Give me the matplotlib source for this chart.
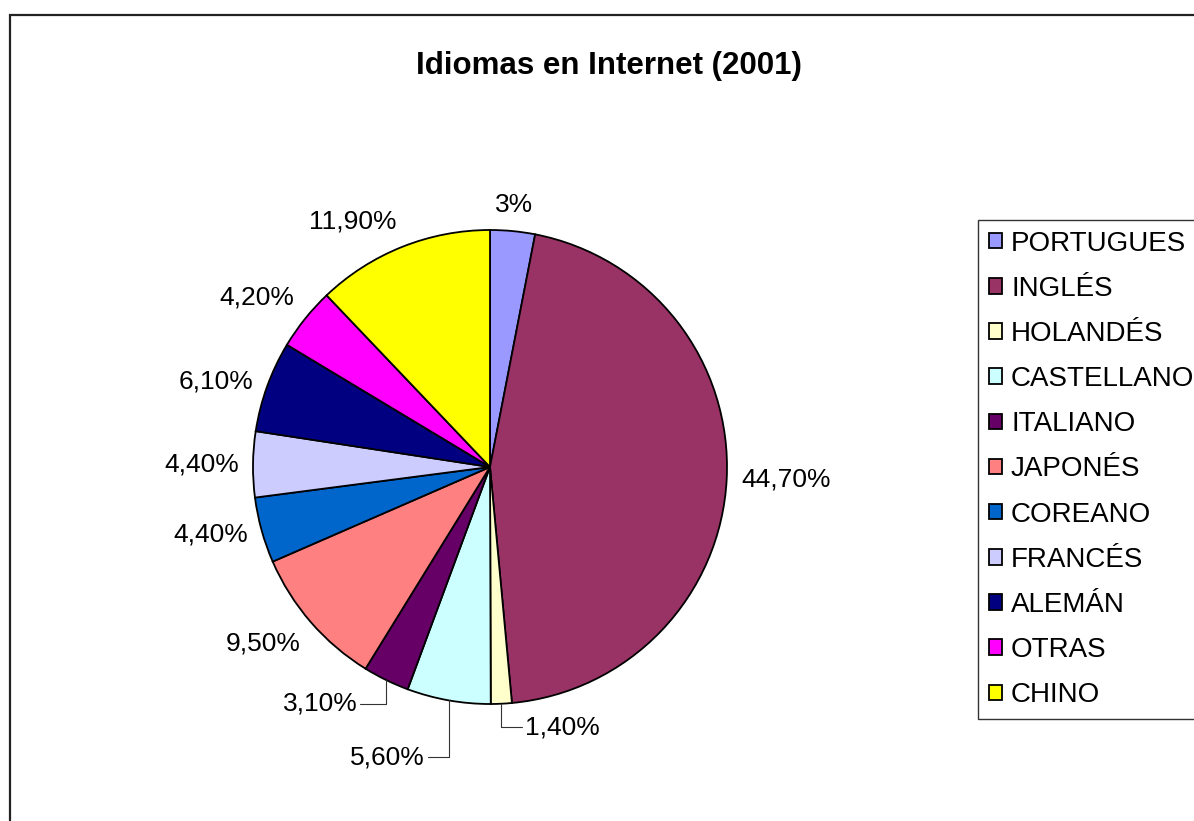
import numpy as np
import matplotlib
matplotlib.use("Agg")
from matplotlib import pyplot as plt
from matplotlib.patches import Rectangle, Patch

plt.rcParams['font.family'] = ['Liberation Sans', 'DejaVu Sans']

# Idiomas en Internet, 2001 (porcentaje de usuarios)
idiomas = ['PORTUGUES', 'INGLÉS', 'HOLANDÉS', 'CASTELLANO', 'ITALIANO', 'JAPONÉS',
           'COREANO', 'FRANCÉS', 'ALEMÁN', 'OTRAS', 'CHINO']
porcentajes = [3.0, 44.7, 1.4, 5.6, 3.1, 9.5, 4.4, 4.4, 6.1, 4.2, 11.9]
etiquetas = ['3%', '44,70%', '1,40%', '5,60%', '3,10%', '9,50%',
             '4,40%', '4,40%', '6,10%', '4,20%', '11,90%']
colores = ['#9999FF', '#993366', '#FFFFCC', '#CCFFFF', '#660066', '#FF8080',
           '#0066CC', '#CCCCFF', '#000080', '#FF00FF', '#FFFF00']

# labels pulled away from their slice with a leader line: index -> (dx, dy, ha)
lineas_guia = {2: (0.10, -0.10, 'left'), 3: (-0.10, -0.24, 'right'), 4: (-0.12, -0.10, 'right')}

W, H = 1194, 821
fig = plt.figure(figsize=(W / 100, H / 100), dpi=100)

# chart area border (runs off the right and bottom edges)
fig.patches.append(Rectangle((10 / W, -0.5), 2, 1.5 - 15 / H, transform=fig.transFigure,
                             fill=False, edgecolor='#222222', linewidth=1.6))

fig.text(609 / W, 1 - 66 / H, 'Idiomas en Internet (2001)', ha='center', va='center',
         fontsize=22.5, fontweight='bold')

# pie centre at (490, 467) px, radius 237 px
R = 237
cx, cy = 490, 467
half_w, half_h = 400, 350
ax = fig.add_axes([(cx - half_w) / W, (H - cy - half_h) / H, 2 * half_w / W, 2 * half_h / H])
wedges, _ = ax.pie(porcentajes, colors=colores, startangle=90, counterclock=False,
                   wedgeprops=dict(edgecolor='black', linewidth=1.3))
ax.set_xlim(-half_w / R, half_w / R)
ax.set_ylim(-half_h / R, half_h / R)
ax.set_aspect('auto')
ax.axis('off')

for i, w in enumerate(wedges):
    ang = np.deg2rad((w.theta1 + w.theta2) / 2)
    c, s = np.cos(ang), np.sin(ang)
    if i in lineas_guia:
        dx, dy, ha = lineas_guia[i]
        ax.annotate(etiquetas[i], xy=(c, s), xytext=(c + dx, s + dy), ha=ha, va='center',
                    fontsize=19,
                    arrowprops=dict(arrowstyle='-', color='#333333', linewidth=0.8,
                                    shrinkA=0, shrinkB=0,
                                    connectionstyle='angle,angleA=0,angleB=90,rad=0'))
        continue
    ha = 'left' if c > 0.2 else ('right' if c < -0.2 else 'center')
    va = 'bottom' if s > 0.5 else ('top' if s < -0.5 else 'center')
    ax.text(1.06 * c, 1.06 * s, etiquetas[i], ha=ha, va=va, fontsize=19)

handles = [Patch(facecolor=col, edgecolor='black', linewidth=1.3) for col in colores]
leg = fig.legend(handles, idiomas, loc='upper left', bbox_to_anchor=(978 / W, 1 - 220 / H),
                 borderaxespad=0, fontsize=20, frameon=True, fancybox=False,
                 handlelength=0.48, handleheight=0.48, handletextpad=0.33,
                 labelspacing=0.69, borderpad=0.38)
leg.get_frame().set_edgecolor('black')
leg.get_frame().set_linewidth(1.0)

fig.savefig('out.png', dpi=100)
